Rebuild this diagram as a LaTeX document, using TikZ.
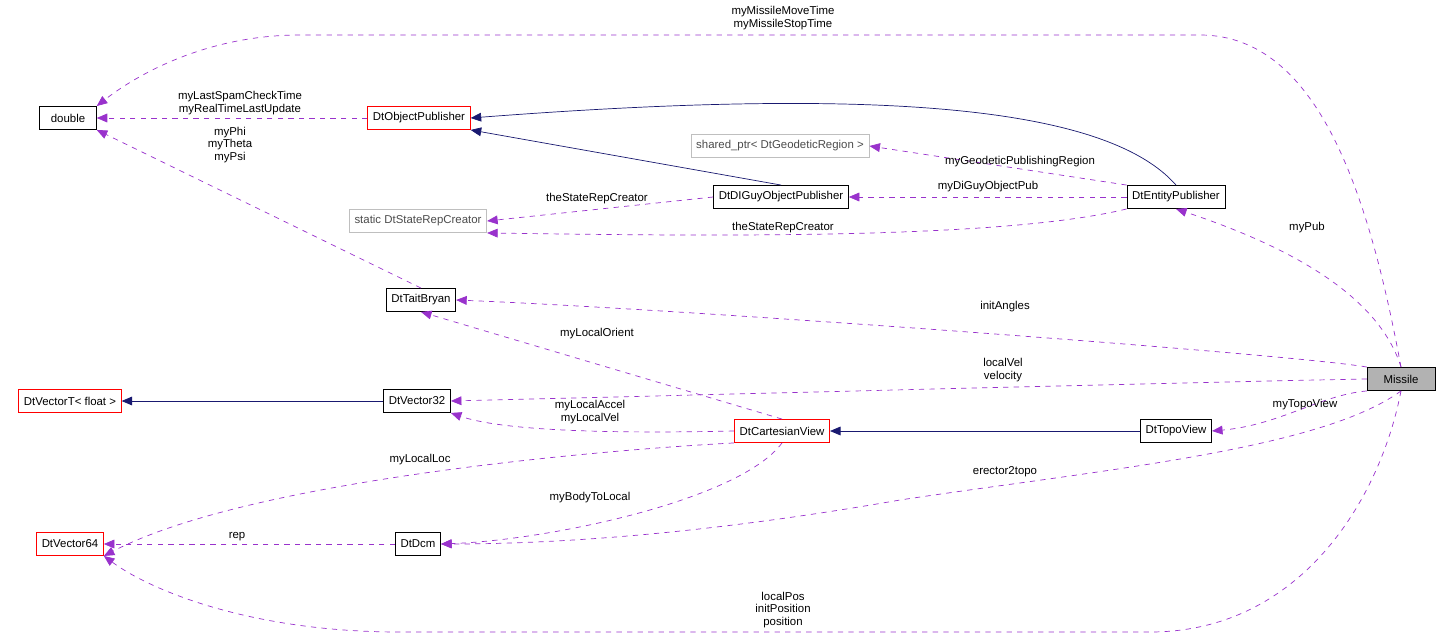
\documentclass[tikz,border=0pt]{standalone}
\usepackage{fontspec}
\setmainfont{Liberation Sans}
\definecolor{myviolet}{RGB}{153,50,204}
\definecolor{mynavy}{RGB}{25,25,112}
\definecolor{mygray}{RGB}{191,191,191}
\usetikzlibrary{arrows.meta}

\begin{document}
\begin{tikzpicture}[x=0.02cm,y=-0.02cm,
    every node/.style={font=\fontsize{6.5}{7}\selectfont},
    cls/.style={draw=black,fill=white,minimum height=13.2pt,inner xsep=3pt,inner ysep=0pt},
    redcls/.style={cls,draw=red},
    graycls/.style={cls,draw=mygray,text=black!70},
    uses/.style={draw=myviolet,dashed,-{Triangle[length=6pt,width=5pt]}},
    isa/.style={draw=mynavy,-{Triangle[length=6pt,width=5pt]}},
    lbl/.style={align=center,inner sep=1pt}
    ]
    \useasboundingbox (0,0) rectangle (1440,639);

    % the classes
    \node[cls,minimum width=57*0.567pt] (dbl) at (68,118) {double};
    \node[redcls] (objpub) at (419,118) {DtObjectPublisher};
    \node[graycls] (geo) at (780,146) {shared\_ptr< DtGeodeticRegion >};
    \node[cls] (diguy) at (781,197) {DtDIGuyObjectPublisher};
    \node[cls] (entpub) at (1176,197) {DtEntityPublisher};
    \node[graycls] (staterep) at (418,221) {static DtStateRepCreator};
    \node[cls] (tait) at (421,300) {DtTaitBryan};
    \node[redcls] (vect) at (70,401) {DtVectorT< float >};
    \node[cls] (vec32) at (417,401) {DtVector32};
    \node[cls,fill=black!30,minimum width=68*0.567pt] (missile) at (1401,379) {Missile};
    \node[redcls] (cart) at (782,431) {DtCartesianView};
    \node[cls] (topo) at (1176,431) {DtTopoView};
    \node[redcls] (vec64) at (70,544) {DtVector64};
    \node[cls] (dcm) at (418,544) {DtDcm};

    % inheritance
    \draw[isa] (entpub.north) .. controls (1110,110) and (900,85) .. (objpub.east);
    \draw[isa] (diguy.north) -- (objpub.south east);
    \draw[isa] (vec32) -- (vect);
    \draw[isa] (topo) -- (cart);

    % usage
    \draw[uses] (missile.north) .. controls (1370,200) and (1320,35) .. (1200,35)
        -- (300,35) .. controls (200,35) and (130,80) .. (dbl.north east);
    \node[lbl] (lmove) at (783,18) {myMissileMoveTime\\myMissileStopTime};
    \draw[uses] (objpub) -- (dbl);
    \node[lbl] (lspam) at (240,103) {myLastSpamCheckTime\\myRealTimeLastUpdate};
    \draw[uses] (tait.north) -- (dbl.south east);
    \node[lbl] (lphi) at (230,145) {myPhi\\myTheta\\myPsi};
    \draw[uses] (entpub.north west) -- (geo.east);
    \node[lbl] (lgeo) at (1020,162) {myGeodeticPublishingRegion};
    \draw[uses] (entpub) -- (diguy);
    \node[lbl] (ldiguy) at (988,187) {myDiGuyObjectPub};
    \draw[uses] (diguy.west) -- (staterep.east);
    \node[lbl] (lsr1) at (597,199) {theStateRepCreator};
    \draw[uses] (entpub.south west) .. controls (1000,240) and (700,236) .. (staterep.south east);
    \node[lbl] (lsr2) at (783,228) {theStateRepCreator};
    \draw[uses] (missile.north) .. controls (1380,300) and (1300,250) .. (entpub.south);
    \node[lbl] (lpub) at (1307,228) {myPub};
    \draw[uses] (missile.north west) .. controls (1300,355) and (700,310) .. (tait.east);
    \node[lbl] (linit) at (1005,307) {initAngles};
    \draw[uses] (cart.north) -- (tait.south);
    \node[lbl] (lorient) at (597,334) {myLocalOrient};
    \draw[uses] (missile.west) .. controls (1200,382) and (700,395) .. (vec32.east);
    \node[lbl] (lvel) at (1003,370) {localVel\\velocity};
    \draw[uses] (cart.west) .. controls (600,434) and (500,430) .. (vec32.south east);
    \node[lbl] (lacc) at (590,412) {myLocalAccel\\myLocalVel};
    \draw[uses] (missile.south west) .. controls (1320,395) and (1280,425) .. (topo.east);
    \node[lbl] (ltopo) at (1305,405) {myTopoView};
    \draw[uses] (cart.south west) .. controls (600,450) and (250,480) .. (vec64.south east);
    \node[lbl] (lloc) at (420,460) {myLocalLoc};
    \draw[uses] (cart.south) .. controls (740,500) and (550,540) .. (dcm.east);
    \node[lbl] (lbody) at (590,498) {myBodyToLocal};
    \draw[uses] (missile.south) .. controls (1320,450) and (1100,470) .. (900,500)
        .. controls (700,535) and (550,544) .. (dcm.east);
    \node[lbl] (lerect) at (1005,472) {erector2topo};
    \draw[uses] (dcm) -- (vec64);
    \node[lbl] (lrep) at (237,537) {rep};
    \draw[uses] (missile.south) .. controls (1380,500) and (1300,632) .. (1150,632)
        -- (400,632) .. controls (250,632) and (150,590) .. (vec64.south east);
    \node[lbl] (lpos) at (783,610) {localPos\\initPosition\\position};
\end{tikzpicture}
\end{document}
